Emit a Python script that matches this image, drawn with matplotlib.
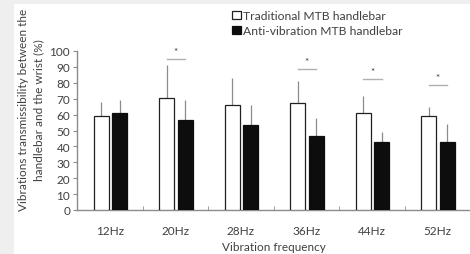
import matplotlib
matplotlib.use("Agg")
import matplotlib.pyplot as plt
import numpy as np
from matplotlib.patches import Rectangle

plt.rcParams["font.family"] = ["Lato", "DejaVu Sans"]

# ---- data ----
freqs = ["12Hz", "20Hz", "28Hz", "36Hz", "44Hz", "52Hz"]
trad = [59, 70.5, 66, 67.3, 60.8, 59]
trad_top = [68, 91, 83, 81, 72, 65]
anti = [61, 56.5, 53.5, 46.3, 43, 42.6]
anti_top = [69, 69, 66, 58, 49, 54]
sig = [False, True, False, True, True, True]
sig_line = [0, 95, 0, 88.7, 82.4, 78.8]
labels = ["Traditional MTB handlebar", "Anti-vibration MTB handlebar"]

GRAY = "#8c8c8c"
TXT = "#404040"

fig = plt.figure(figsize=(4.7, 2.55), dpi=100, facecolor="#efefef")
fig.patches.append(Rectangle((14/470, 0), 1, 1 - 5/255, transform=fig.transFigure,
                             facecolor="white", edgecolor="none", zorder=-10))
ax = fig.add_axes([77/470, 1 - 211/255, 1 - 77/470, (211 - 52)/255])
ax.set_facecolor("none")

x = np.arange(len(freqs))
w = 0.23
err_t = np.array(trad_top) - np.array(trad)
err_a = np.array(anti_top) - np.array(anti)
b1 = ax.bar(x - 0.13, trad, w, color="white", edgecolor="#202020", linewidth=0.9, zorder=3)
b2 = ax.bar(x + 0.15, anti, w, color="#0d0d0d", edgecolor="#0d0d0d", linewidth=0.9, zorder=3)
ax.errorbar(x - 0.13, trad, yerr=[np.zeros(6), err_t], fmt="none", ecolor=GRAY,
            elinewidth=0.9, capsize=0, zorder=2)
ax.errorbar(x + 0.15, anti, yerr=[np.zeros(6), err_a], fmt="none", ecolor=GRAY,
            elinewidth=0.9, capsize=0, zorder=2)

# significance marks
for i in range(len(freqs)):
    if sig[i]:
        ax.plot([i - 0.13, i + 0.15], [sig_line[i], sig_line[i]], color="#b0b0b0",
                lw=1.0, clip_on=False)
        ax.text(i + 0.01, sig_line[i] + 4.5, "*", ha="center", va="center",
                fontsize=7, color="#303030", clip_on=False)

ax.set_xlim(-0.5, len(freqs) - 0.5)
ax.set_ylim(0, 100)
ax.set_yticks(range(0, 101, 10))
ax.set_xticks(x)
ax.set_xticklabels(freqs)
ax.set_xticks(np.arange(0.5, len(freqs) - 0.5, 1), minor=True)
ax.tick_params(axis="x", which="major", length=0, pad=11, labelsize=8.5, labelcolor=TXT)
ax.tick_params(axis="x", which="minor", direction="in", length=3, color=GRAY)
ax.tick_params(axis="y", length=3, color=GRAY, labelsize=8.5, labelcolor=TXT, pad=2)
for s in ["top", "right"]:
    ax.spines[s].set_visible(False)
for s in ["left", "bottom"]:
    ax.spines[s].set_color(GRAY)
    ax.spines[s].set_linewidth(1.0)

ax.set_xlabel("Vibration frequency", fontsize=8.5, color=TXT, labelpad=3.5)
fig.text(31/470, 1 - 110/255, "Vibrations transmissibility between the\nhandlebar and the wrist (%)",
         rotation=90, ha="center", va="center", fontsize=8.5, color=TXT,
         multialignment="center", linespacing=1.4)

fig.legend([b1, b2], labels, loc="upper left", bbox_to_anchor=(226/470, 1 - 5/255),
           frameon=False, fontsize=8.7, labelcolor=TXT, handlelength=0.7,
           handleheight=0.7, handletextpad=0.2, borderpad=0, labelspacing=0.35)

fig.savefig("out.png", dpi=100, facecolor=fig.get_facecolor())
